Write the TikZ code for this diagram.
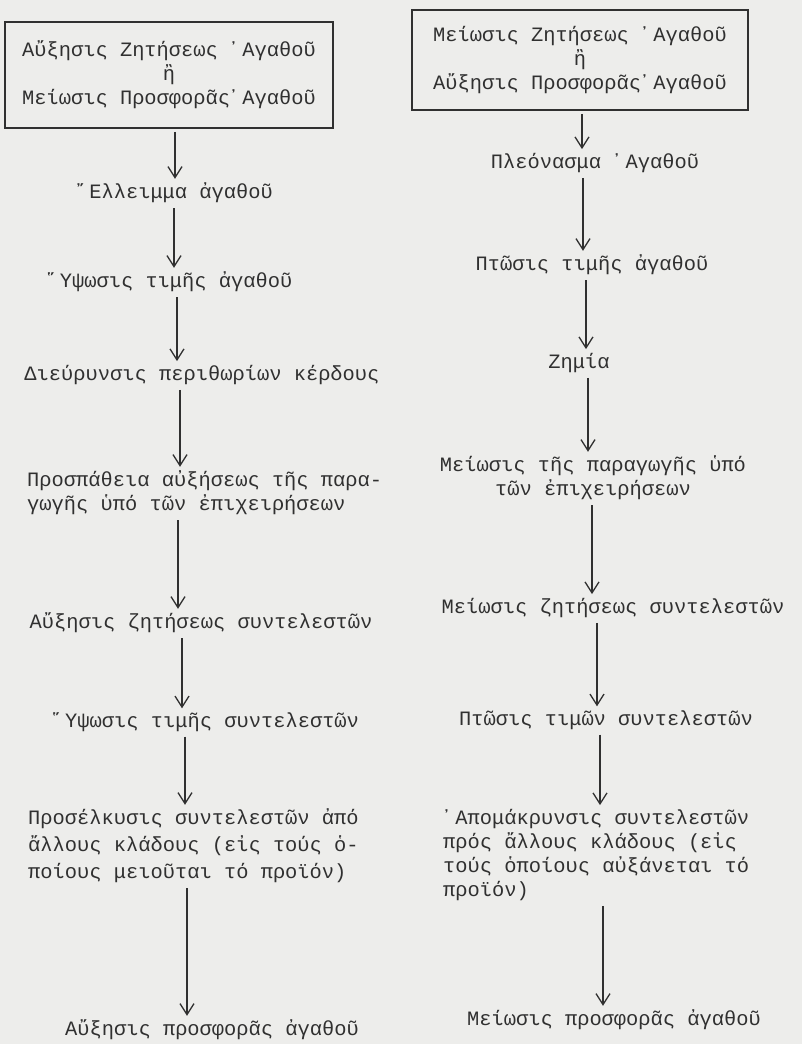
\documentclass[tikz,border=0pt]{standalone}
\usepackage{fontspec}
\setmonofont{Liberation Mono}
\usepackage{tikz}
\usetikzlibrary{arrows.meta}
\definecolor{paperGray}{RGB}{237, 237, 235}
\definecolor{inkGray}{RGB}{48, 48, 48}
\tikzset{
  flowtext/.style={inner sep=2pt, text=inkGray, font=\ttfamily\fontsize{20.4}{24}\selectfont},
  flowbox/.style={flowtext, draw=inkGray, line width=1.6pt, align=center},
  flowarrow/.style={draw=inkGray, line width=1.3pt, shorten <=3pt, shorten >=2pt,
    -{Straight Barb[length=11pt, width=14pt, line width=1.3pt]}}
}

\begin{document}
\begin{tikzpicture}[x=1pt, y=-1pt]
        \fill[paperGray] (0,0) rectangle (802,1044);
        \node[flowbox, minimum width=328pt, minimum height=106pt] (boxL) at (169,75)
          {Αὔξησις Ζητήσεως ᾿Αγαθοῦ\\ἢ\\Μείωσις Προσφορᾶς᾿Αγαθοῦ};
        \node[flowtext] (e1) at (175,193) {῎Ελλειμμα ἀγαθοῦ};
        \node[flowtext] (e2) at (170,282) {῞Υψωσις τιμῆς ἀγαθοῦ};
        \node[flowtext] (e3) at (202,375) {Διεύρυνσις περιθωρίων κέρδους};
        \node[flowtext, align=left, anchor=west] (e4) at (25,493)
          {Προσπάθεια αὐξήσεως τῆς παρα-\\γωγῆς ὑπό τῶν ἐπιχειρήσεων};
        \node[flowtext] (e5) at (201,623) {Αὔξησις ζητήσεως συντελεστῶν};
        \node[flowtext] (e6) at (206,722) {῞Υψωσις τιμῆς συντελεστῶν};
        \node[flowtext, align=left, anchor=west, font=\ttfamily\fontsize{20.4}{27}\selectfont] (e7) at (26,846)
          {Προσέλκυσις συντελεστῶν ἀπό\\ἄλλους κλάδους (εἰς τούς ὁ-\\ποίους μειοῦται τό προϊόν)};
        \node[flowtext] (e8) at (212,1030) {Αὔξησις προσφορᾶς ἀγαθοῦ};

        \node[flowbox, minimum width=336pt, minimum height=100pt] (boxR) at (580,60)
          {Μείωσις Ζητήσεως ᾿Αγαθοῦ\\ἢ\\Αὔξησις Προσφορᾶς᾿Αγαθοῦ};
        \node[flowtext] (r1) at (595,163) {Πλεόνασμα ᾿Αγαθοῦ};
        \node[flowtext] (r2) at (592,265) {Πτῶσις τιμῆς ἀγαθοῦ};
        \node[flowtext] (r3) at (579,363) {Ζημία};
        \node[flowtext, align=center] (r4) at (593,478)
          {Μείωσις τῆς παραγωγῆς ὑπό\\τῶν ἐπιχειρήσεων};
        \node[flowtext] (r5) at (613,608) {Μείωσις ζητήσεως συντελεστῶν};
        \node[flowtext] (r6) at (606,720) {Πτῶσις τιμῶν συντελεστῶν};
        \node[flowtext, align=left, anchor=west] (r7) at (441,855)
          {᾿Απομάκρυνσις συντελεστῶν\\πρός ἄλλους κλάδους (εἰς\\τούς ὁποίους αὐξάνεται τό\\προϊόν)};
        \node[flowtext] (r8) at (614,1020) {Μείωσις προσφορᾶς ἀγαθοῦ};

        \foreach \from/\to/\xx in {boxL/e1/175, e1/e2/174, e2/e3/177, e3/e4/180, e4/e5/178,
            e5/e6/182, e6/e7/185, e7/e8/187, boxR/r1/582, r1/r2/583, r2/r3/586, r3/r4/588,
            r4/r5/592, r5/r6/597, r6/r7/600, r7/r8/603}
          \draw[flowarrow] (\xx,0 |- \from.south) -- (\xx,0 |- \to.north);
      \end{tikzpicture}
\end{document}
